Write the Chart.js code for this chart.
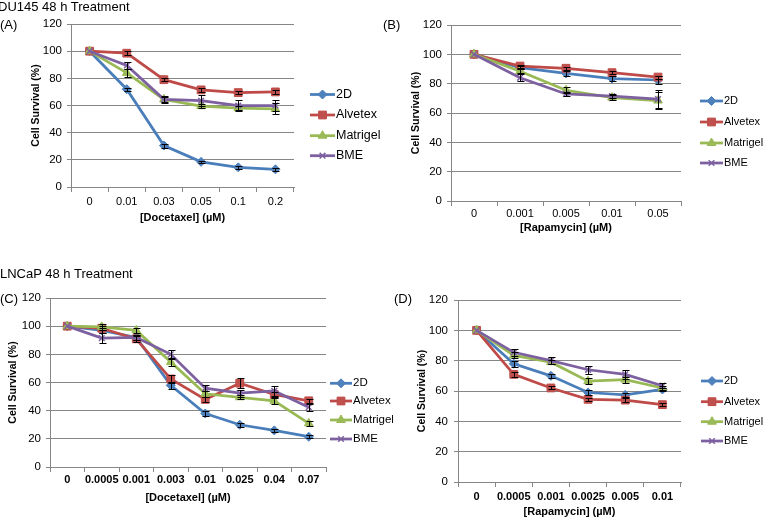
<!DOCTYPE html>
<html><head><meta charset="utf-8">
<script src="https://cdn.jsdelivr.net/npm/chart.js@4.4.0/dist/chart.umd.min.js"></script>
<style>
html,body{margin:0;padding:0;background:#fff;}
body{width:763px;height:519px;position:relative;overflow:hidden;font-family:"Liberation Sans",Arial,sans-serif;}
canvas{position:absolute;}
.lbl{position:absolute;font-size:13px;line-height:13px;color:#000;white-space:nowrap;}
</style></head><body>
<canvas id="cA" width="380" height="240" style="left:0;top:0"></canvas>
<canvas id="cB" width="383" height="240" style="left:380px;top:0"></canvas>
<canvas id="cC" width="420" height="269" style="left:0;top:250px"></canvas>
<canvas id="cD" width="383" height="269" style="left:380px;top:250px"></canvas>
<div class="lbl" style="left:-2px;top:0px">DU145 48 h Treatment</div>
<div class="lbl" style="left:0px;top:18px">(A)</div>
<div class="lbl" style="left:383px;top:18px">(B)</div>
<div class="lbl" style="left:0px;top:267px">LNCaP 48 h Treatment</div>
<div class="lbl" style="left:0px;top:292px">(C)</div>
<div class="lbl" style="left:394px;top:292px">(D)</div>
<script>
// ---------- DATA ----------
const seriesNames = ['2D', 'Alvetex', 'Matrigel', 'BME'];

// (A) DU145, Docetaxel
const catsA = ['0', '0.01', '0.03', '0.05', '0.1', '0.2'];
const a2D       = [100, 72, 30.5, 18.5, 14.5, 13];
const aAlvetex  = [100, 98.5, 79, 71.5, 69.5, 70];
const aMatrigel = [100, 84, 64.5, 59.5, 58, 57.5];
const aBME      = [100, 89.5, 64.5, 63.5, 60, 60];
const aErr2D       = [0, 1, 1.5, 1, 1, 1];
const aErrAlvetex  = [0, 1.5, 1, 1.5, 1, 1.5];
const aErrMatrigel = [0, 3, 2, 1.5, 1.5, 4];
const aErrBME      = [0, 2.5, 2.5, 4, 4, 4];

// (B) DU145, Rapamycin
const catsB = ['0', '0.001', '0.005', '0.01', '0.05'];
const b2D       = [100, 91, 87, 83.5, 82.5];
const bAlvetex  = [100, 92, 90.5, 87.5, 84.5];
const bMatrigel = [100, 88.5, 75.5, 70.5, 68.5];
const bBME      = [100, 84, 73, 71.5, 69.5];
const bErr2D       = [0, 1, 1.5, 2, 2.5];
const bErrAlvetex  = [0, 1, 1, 1, 1];
const bErrMatrigel = [0, 1.5, 2, 1.5, 6];
const bErrBME      = [0, 2.5, 1.5, 1.5, 6];

// (C) LNCaP, Docetaxel
const catsC = ['0', '0.0005', '0.001', '0.003', '0.01', '0.025', '0.04', '0.07'];
const c2D       = [100, 97, 92, 58, 38, 30, 26, 21.5];
const cAlvetex  = [100, 98.5, 91, 62.5, 48, 59.5, 51.5, 47];
const cMatrigel = [100, 99.5, 97, 74.5, 52, 49.5, 47, 31];
const cBME      = [100, 91.5, 92, 80, 56, 52.5, 54, 42.5];
const cErr2D       = [0, 1.5, 1.5, 2.5, 2, 1.5, 1, 1];
const cErrAlvetex  = [0, 1.5, 2, 2.5, 1.5, 3.5, 2, 1.5];
const cErrMatrigel = [0, 2, 2, 3, 2, 1.5, 2, 2];
const cErrBME      = [0, 3.5, 1.5, 3, 2, 2.5, 3.5, 2.5];

// (D) LNCaP, Rapamycin
const catsD = ['0', '0.0005', '0.001', '0.0025', '0.005', '0.01'];
const d2D       = [100, 78, 70, 59, 57.5, 61];
const dAlvetex  = [100, 71, 62, 54.5, 54, 51];
const dMatrigel = [100, 83.5, 79, 66.5, 67.5, 62];
const dBME      = [100, 85.5, 80, 74, 71, 63.5];
const dErr2D       = [0, 2, 1.5, 1.5, 1.5, 1];
const dErrAlvetex  = [0, 1.5, 1, 1, 1.5, 1];
const dErrMatrigel = [0, 2, 1.5, 2, 2, 1.5];
const dErrBME      = [0, 2.5, 2.5, 2.5, 3, 1.5];

// ---------- STYLE ----------
const FF = '"Liberation Sans", Arial, Helvetica, sans-serif';
const GRID = '#868686';
const seriesStyle = [
  {line: '#4A7EBB', fill: '#4F81BD', shape: 'rectRot', r: 4.5, bw: 1},
  {line: '#BE4B48', fill: '#C0504D', shape: 'rect', r: 5.5, bw: 1},
  {line: '#98B954', fill: '#9BBB59', shape: 'triangle', r: 5, bw: 1},
  {line: '#7D60A0', fill: '#8064A2', shape: 'crossRot', r: 4, bw: 1.5}
];

const legendPlugin = {
  id: 'customLegend',
  afterDraw(chart, args, opts) {
    const ctx = chart.ctx;
    chart.data.datasets.forEach((ds, i) => {
      const y = opts.ys[i];
      ctx.save();
      ctx.strokeStyle = ds.borderColor;
      ctx.lineWidth = ds.borderWidth;
      ctx.beginPath(); ctx.moveTo(opts.x1, y); ctx.lineTo(opts.x2, y); ctx.stroke();
      ctx.fillStyle = ds.pointBackgroundColor;
      ctx.strokeStyle = ds.pointBorderColor;
      ctx.lineWidth = ds.pointBorderWidth;
      Chart.helpers.drawPoint(ctx, {pointStyle: ds.pointStyle, radius: ds.pointRadius, borderWidth: ds.pointBorderWidth, rotation: 0}, (opts.x1 + opts.x2) / 2, y);
      ctx.fillStyle = '#000';
      ctx.font = opts.fontSize + 'px ' + FF;
      ctx.textBaseline = 'middle';
      ctx.textAlign = 'left';
      ctx.fillText(ds.label, opts.x2 + 1, y);
      ctx.restore();
    });
  }
};

const errPlugin = {
  id: 'errBars',
  afterDatasetsDraw(chart) {
    const ctx = chart.ctx, ys = chart.scales.y;
    ctx.save();
    ctx.strokeStyle = '#000';
    ctx.lineWidth = 1;
    chart.data.datasets.forEach((ds, i) => {
      const meta = chart.getDatasetMeta(i);
      ds.err.forEach((e, j) => {
        if (!e) return;
        const x = Math.round(meta.data[j].x) + 0.5;
        const yt = Math.round(ys.getPixelForValue(ds.data[j] + e)) + 0.5;
        const yb = Math.round(ys.getPixelForValue(ds.data[j] - e)) + 0.5;
        ctx.beginPath();
        ctx.moveTo(x, yt); ctx.lineTo(x, yb);
        ctx.moveTo(x - 3, yt); ctx.lineTo(x + 4, yt);
        ctx.moveTo(x - 3, yb); ctx.lineTo(x + 4, yb);
        ctx.stroke();
      });
    });
    ctx.restore();
  }
};

function makeChart(id, cats, values, errs, L) {
  const datasets = values.map((v, i) => ({
    label: seriesNames[i],
    data: v,
    err: errs[i],
    order: values.length - 1 - i,
    borderColor: seriesStyle[i].line,
    backgroundColor: seriesStyle[i].fill,
    borderWidth: 2.75,
    pointStyle: seriesStyle[i].shape,
    pointRadius: seriesStyle[i].r,
    pointHoverRadius: seriesStyle[i].r,
    pointBackgroundColor: seriesStyle[i].fill,
    pointBorderColor: seriesStyle[i].line,
    pointBorderWidth: seriesStyle[i].bw,
    tension: 0,
    fill: false
  }));
  return new Chart(document.getElementById(id), {
    type: 'line',
    data: {labels: cats, datasets},
    plugins: [errPlugin, legendPlugin],
    options: {
      responsive: false,
      animation: false,
      devicePixelRatio: 1,
      layout: {padding: {left: 0, top: L.top, right: L.right, bottom: 0}},
      plugins: {
        legend: {display: false},
        tooltip: {enabled: false},
        customLegend: L.legend
      },
      scales: {
        x: {
          type: 'category',
          offset: true,
          grid: {offset: true, drawOnChartArea: false, drawTicks: true, tickLength: 5, color: GRID},
          border: {color: GRID, width: 1},
          ticks: {font: {family: FF, size: L.xTickSize, weight: L.xTickBold ? 'bold' : 'normal'}, color: '#000', padding: L.xTickPad, maxRotation: 0, autoSkip: false},
          title: {display: true, text: L.xTitle, font: {family: FF, size: 11, weight: 'bold'}, color: '#000', padding: {top: 0, bottom: L.xTitlePad}},
          afterFit: s => { s.height = L.xH; }
        },
        y: {
          min: 0, max: 120,
          ticks: {stepSize: 20, font: {family: FF, size: 11.5}, color: '#000', padding: L.yTickPad},
          grid: {color: GRID, tickLength: 4, drawTicks: true},
          border: {color: GRID, width: 1},
          title: {display: true, text: 'Cell Survival (%)', font: {family: FF, size: 10.5, weight: 'bold'}, color: '#000', padding: {top: L.yTitlePad, bottom: 0}},
          afterFit: s => { s.width = L.yW; }
        }
      }
    }
  });
}

makeChart('cA', catsA, [a2D, aAlvetex, aMatrigel, aBME], [aErr2D, aErrAlvetex, aErrMatrigel, aErrBME], {
  top: 24, right: 86, yW: 71, xH: 53, xTickPad: 3.5, xTitlePad: 15.4, yTitlePad: 29.5, yTickPad: 5,
  xTickSize: 11, xTickBold: false, xTitle: '[Docetaxel] (µM)',
  legend: {x1: 310, x2: 335, ys: [94.5, 115, 135.7, 155.7], fontSize: 12.5}
});
makeChart('cB', catsB, [b2D, bAlvetex, bMatrigel, bBME], [bErr2D, bErrAlvetex, bErrMatrigel, bErrBME], {
  top: 25, right: 82, yW: 71, xH: 39, xTickPad: 1, xTitlePad: 5.4, yTitlePad: 29.5, yTickPad: 5,
  xTickSize: 11, xTickBold: false, xTitle: '[Rapamycin] (µM)',
  legend: {x1: 320, x2: 343, ys: [101, 122, 143, 163], fontSize: 11}
});
makeChart('cC', catsC, [c2D, cAlvetex, cMatrigel, cBME], [cErr2D, cErrAlvetex, cErrMatrigel, cErrBME], {
  top: 48, right: 94, yW: 50, xH: 52, xTickPad: 1.4, xTitlePad: 14.4, yTitlePad: 6.5, yTickPad: 5,
  xTickSize: 11, xTickBold: true, xTitle: '[Docetaxel] (µM)',
  legend: {x1: 330, x2: 352, ys: [133.3, 151, 170, 189], fontSize: 11.5}
});
makeChart('cD', catsD, [d2D, dAlvetex, dMatrigel, dBME], [dErr2D, dErrAlvetex, dErrMatrigel, dErrBME], {
  top: 50, right: 82, yW: 78, xH: 37, xTickPad: 3.4, xTitlePad: 0, yTitlePad: 35.5, yTickPad: 6,
  xTickSize: 11, xTickBold: true, xTitle: '[Rapamycin] (µM)',
  legend: {x1: 321, x2: 343, ys: [131, 151.7, 171.7, 191], fontSize: 11}
});
</script>
</body></html>
